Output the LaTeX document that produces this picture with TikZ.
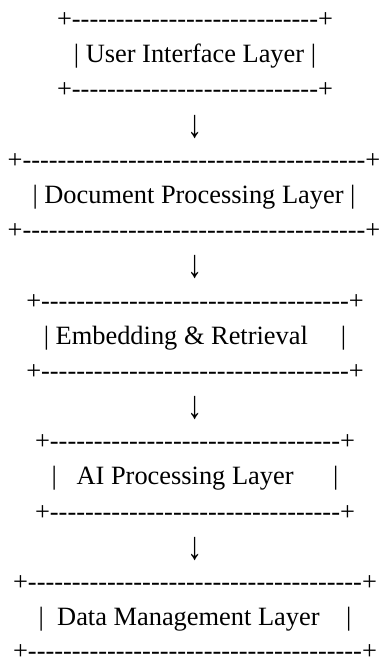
\documentclass[tikz,border=0pt]{standalone}
\usepackage{graphicx}
\usepackage{fontspec}
\setmainfont{Liberation Serif}
\ExplSyntaxOn
\cs_new:Npn \myrep #1#2 { \prg_replicate:nn {#1} {#2} }
\ExplSyntaxOff
\newcommand\dashrow[1]{+\myrep{#1}{-{}}+}
\newcommand\gap[1]{\myrep{#1}{\ }}
\newcommand\downarr{\resizebox*{1.15\width}{23.3pt}{↓}}
\tikzset{
  row/.style={anchor=base, inner sep=0pt, font=\fontsize{26.4}{30}\selectfont},
  arr/.style={anchor=center, inner sep=0pt, font=\fontsize{26.4}{30}\selectfont}
}
\begin{document}
\begin{tikzpicture}[x=1pt,y=-1pt]
\useasboundingbox (0,0) rectangle (380,662);
% User Interface Layer
\node[row] (ui1) at (195,27.5) {\dashrow{28}};
\node[row] (ui2) at (195,62.69) {|\gap{1}User Interface Layer\gap{1}|};
\node[row] (ui3) at (195,97.88) {\dashrow{28}};
\node[arr] (a1) at (195,126.7) {\downarr};
% Document Processing Layer
\node[row] (dp1) at (194,168.26) {\dashrow{39}};
\node[row] (dp2) at (194,203.45) {|\gap{1}Document Processing Layer\gap{1}|};
\node[row] (dp3) at (194,238.64) {\dashrow{39}};
\node[arr] (a2) at (195,267.4) {\downarr};
% Embedding & Retrieval
\node[row] (er1) at (195,309.02) {\dashrow{35}};
\node[row] (er2) at (195,344.21) {|\gap{1}Embedding \& Retrieval\gap{5}|};
\node[row] (er3) at (195,379.4) {\dashrow{35}};
\node[arr] (a3) at (195,408.2) {\downarr};
% AI Processing Layer
\node[row] (ai1) at (195,449.78) {\dashrow{33}};
\node[row] (ai2) at (195,484.97) {|\gap{3}AI Processing Layer\gap{6}|};
\node[row] (ai3) at (195,520.16) {\dashrow{33}};
\node[arr] (a4) at (195,549) {\downarr};
% Data Management Layer
\node[row] (dm1) at (195,590.54) {\dashrow{38}};
\node[row] (dm2) at (195,625.73) {|\gap{2}Data Management Layer\gap{4}|};
\node[row] (dm3) at (195,659.6) {\dashrow{38}};
\end{tikzpicture}
\end{document}
